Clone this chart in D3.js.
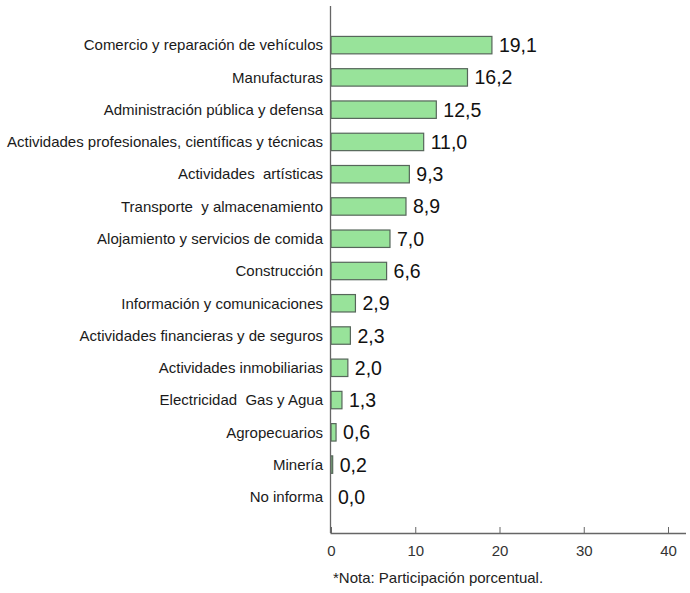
<!DOCTYPE html>
<html><head><meta charset="utf-8">
<script src="https://cdn.jsdelivr.net/npm/d3@7"></script>
<style>body{margin:0;background:#fff}svg{display:block}text{white-space:pre}</style>
</head><body>
<script>
const categories = ["Comercio y reparación de vehículos","Manufacturas","Administración pública y defensa","Actividades profesionales, científicas y técnicas","Actividades  artísticas","Transporte  y almacenamiento","Alojamiento y servicios de comida","Construcción","Información y comunicaciones","Actividades financieras y de seguros","Actividades inmobiliarias","Electricidad  Gas y Agua","Agropecuarios","Minería","No informa"];
const values = [19.1,16.2,12.5,11.0,9.3,8.9,7.0,6.6,2.9,2.3,2.0,1.3,0.6,0.2,0.0];
const xTicks = [0,10,20,30,40];
const note = "*Nota: Participación porcentual.";

const W=690,H=593;
const svg=d3.select("body").append("svg").attr("width",W).attr("height",H);
const x0=331, x1=668;
const x=d3.scaleLinear().domain([0,40]).range([x0,x1]);
const y=d3.scaleBand().domain(categories).range([29,513]).paddingInner(0.46).paddingOuter(0.23);
const axisY=533;
const FF="Liberation Sans, Arial, sans-serif";

svg.selectAll("rect.bar").data(values).enter().append("rect")
  .attr("x",x(0)).attr("y",(d,i)=>y(categories[i]))
  .attr("width",d=>Math.max(0,x(d)-x(0))).attr("height",y.bandwidth())
  .attr("fill","#98e39a").attr("stroke","#56665a").attr("stroke-width",1.2);

svg.selectAll("text.cat").data(categories).enter().append("text")
  .attr("x",323).attr("y",d=>y(d)+y.bandwidth()/2).attr("dy","0.35em")
  .attr("text-anchor","end").attr("font-family",FF)
  .attr("font-size",15).attr("fill","#1a1a1a").text(d=>d);

svg.selectAll("text.val").data(values).enter().append("text")
  .attr("x",d=>x(d)+7).attr("y",(d,i)=>y(categories[i])+y.bandwidth()/2).attr("dy","0.36em")
  .attr("font-family",FF).attr("font-size",19.5)
  .attr("fill","#111").text(d=>d.toFixed(1).replace(".",","));

svg.append("line").attr("x1",x0-0.5).attr("x2",x0-0.5).attr("y1",6).attr("y2",axisY)
  .attr("stroke","#666").attr("stroke-width",1.3);

const xa=svg.append("g").attr("transform",`translate(0,${axisY})`)
  .call(d3.axisBottom(x).tickValues(xTicks).tickSize(6).tickSizeOuter(0).tickFormat(d3.format("d")));
xa.select(".domain").attr("d",`M${x0-0.5},0.5H686`).attr("stroke","#666").attr("stroke-width",1.3);
xa.selectAll(".tick line").attr("stroke","#666").attr("y1",-6).attr("y2",0);
xa.selectAll(".tick text").attr("y",12).attr("dy","0.71em").attr("font-family",FF)
  .attr("font-size",15).attr("fill","#333");

svg.append("text").attr("x",333).attr("y",583).attr("font-family",FF)
  .attr("font-size",15).attr("fill","#222").text(note);
</script>
</body></html>
